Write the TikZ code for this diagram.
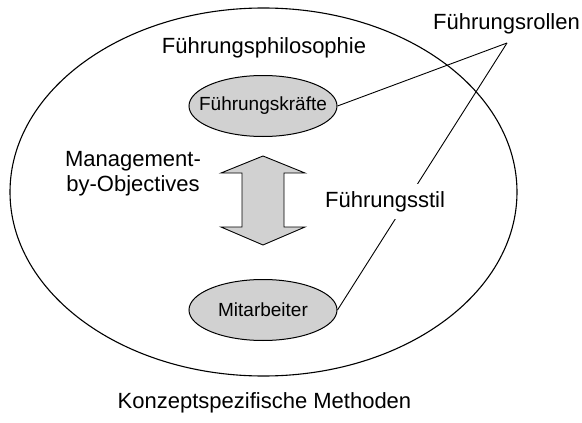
\documentclass[tikz,border=0pt]{standalone}
\usepackage{fontspec}
\setmainfont{Liberation Sans}
\usetikzlibrary{shapes.geometric}
\begin{document}
\begin{tikzpicture}[x=1pt,y=-1pt,
  label/.style={font=\fontsize{22}{25}\selectfont, inner sep=0pt},
  role/.style={ellipse, draw, line width=1pt, fill=black!18,
    minimum width=148pt, minimum height=61pt,
    inner xsep=-14pt, inner ysep=0pt,
    font=\fontsize{19}{21}\selectfont},
  link/.style={line width=0.9pt},
  frame/.style={line width=1.1pt}]
\useasboundingbox (0,0) rectangle (582,423);

% outer ellipse
\draw[frame] (263.5,192) ellipse [x radius=253.5, y radius=184];

% headings
\node[label, anchor=base] (phil) at (264,53) {Führungsphilosophie};
\node[label, anchor=base] (rollen) at (506.5,29) {Führungsrollen};
\node[label, anchor=base] (konz) at (264.5,408) {Konzeptspezifische Methoden};
\node[label, align=center, anchor=base] (mbo) at (133,191)
  {Management-\\by-Objectives};

% the two roles
\node[role] (fk) at (263,106) {Führungskräfte};
\node[role] (ma) at (263,310) {Mitarbeiter};

% double arrow between the roles
\filldraw[line width=0.9pt, fill=black!18]
  (263,156) -- (305,173) -- (284,173) -- (284,227) -- (305,227)
  -- (263,245) -- (221,227) -- (242,227) -- (242,173) -- (221,173) -- cycle;

% connectors to the roles
\coordinate (joint) at (507,43);
\draw[link] (joint) -- (fk.east);
\draw[link] (joint) -- (ma.east);

\node[label, anchor=base west, fill=white, inner xsep=2pt, inner ysep=7pt] (stil) at (323,207) {Führungsstil};
\end{tikzpicture}
\end{document}
